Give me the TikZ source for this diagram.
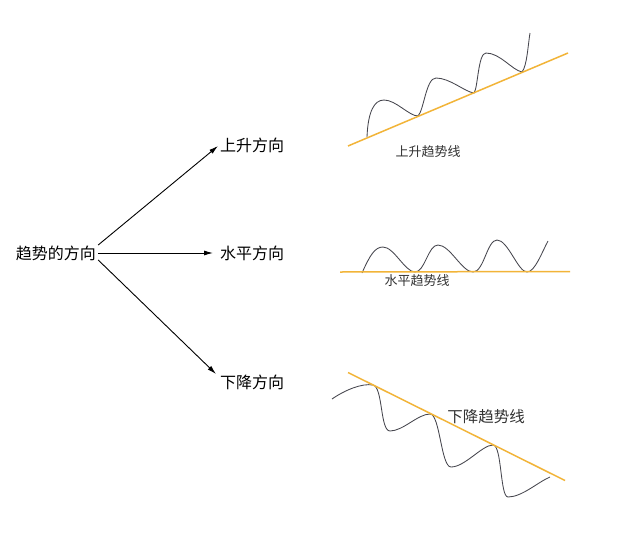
\documentclass[tikz,border=0pt]{standalone}
\usepackage{fontspec}
\setmainfont{Noto Sans CJK SC}
\usetikzlibrary{arrows.meta,calc}
\definecolor{trendorange}{RGB}{242,180,56}
\definecolor{curvegray}{RGB}{70,70,78}
\definecolor{labelgray}{RGB}{50,50,50}
\tikzset{
  mainlabel/.style={inner sep=0pt, font=\fontsize{16}{16}\selectfont, text=black},
  chartlabel/.style={inner sep=0pt, font=\fontsize{13}{13}\selectfont, text=labelgray},
  dirarrow/.style={line width=0.9pt, -{Latex[length=9pt,width=5pt]}},
  trendline/.style={trendorange, line width=1.5pt},
  pricecurve/.style={curvegray, line width=0.85pt},
}
\begin{document}
\begin{tikzpicture}[x=1pt,y=-1pt]
\useasboundingbox (0,0) rectangle (640,544);
\fill[white] (0,0) rectangle (640,544);

% left tree
\node[mainlabel] (root) at (56,253) {趋势的方向};
\node[mainlabel, anchor=west] (up) at (220,145) {上升方向};
\node[mainlabel, anchor=west] (flat) at (220,253) {水平方向};
\node[mainlabel, anchor=west] (down) at (220,382) {下降方向};
\coordinate (sUp) at ($(root.east)+(2,-8)$);
\coordinate (sFlat) at ($(root.east)+(2,0)$);
\coordinate (sDown) at ($(root.east)+(2,7)$);
\coordinate (eUp) at (218,146);
\coordinate (eFlat) at (213,253);
\coordinate (eDown) at (216,374);
\draw[dirarrow] (sUp) -- (eUp);
\draw[dirarrow] (sFlat) -- (eFlat);
\draw[dirarrow] (sDown) -- (eDown);

% rising trend chart
\coordinate (ua) at (348,146);
\coordinate (ub) at (568,53);
\draw[pricecurve] (367,137) .. controls (368,112) and (374,100) .. (384,100)
  .. controls (396,100) and (409,116) .. (418,116)
  .. controls (424,110) and (426,78) .. (436,78)
  .. controls (450,78) and (465,92) .. (474,93)
  .. controls (478,88) and (478,53) .. (486,53)
  .. controls (500,53) and (512,70) .. (522,72)
  .. controls (527,66) and (528,45) .. (530,33);
\draw[trendline] (ua) -- (ub);
\node[chartlabel] (uplabel) at (428,152) {上升趋势线};

% horizontal trend chart
\coordinate (fa) at (340,272);
\coordinate (fb) at (570,271.5);
\draw[pricecurve] (362,273) .. controls (370,255) and (375,247) .. (383,247)
  .. controls (394,247) and (405,272) .. (415,272)
  .. controls (425,272) and (428,245) .. (438,245)
  .. controls (450,245) and (462,272) .. (473,272)
  .. controls (484,272) and (487,240) .. (497,240)
  .. controls (508,240) and (518,272) .. (527,272)
  .. controls (535,272) and (542,252) .. (548,241);
\draw[trendline] (fa) -- (fb);
\node[chartlabel] (flatlabel) at (417,281) {水平趋势线};

% falling trend chart
\coordinate (da) at (348,372.5);
\coordinate (db) at (565,480.5);
\draw[pricecurve] (332,399) .. controls (345,390) and (362,383) .. (373,385)
  .. controls (383,387) and (380,431) .. (390,431)
  .. controls (403,431) and (418,414) .. (430,414)
  .. controls (440,414) and (441,467) .. (451,467)
  .. controls (465,467) and (482,445) .. (493,445)
  .. controls (502,445) and (500,497) .. (508,497)
  .. controls (522,497) and (538,482) .. (550,477);
\draw[trendline] (da) -- (db);
\node[chartlabel, font=\fontsize{15.5}{16}\selectfont] (downlabel) at (486,417) {下降趋势线};
\end{tikzpicture}
\end{document}
